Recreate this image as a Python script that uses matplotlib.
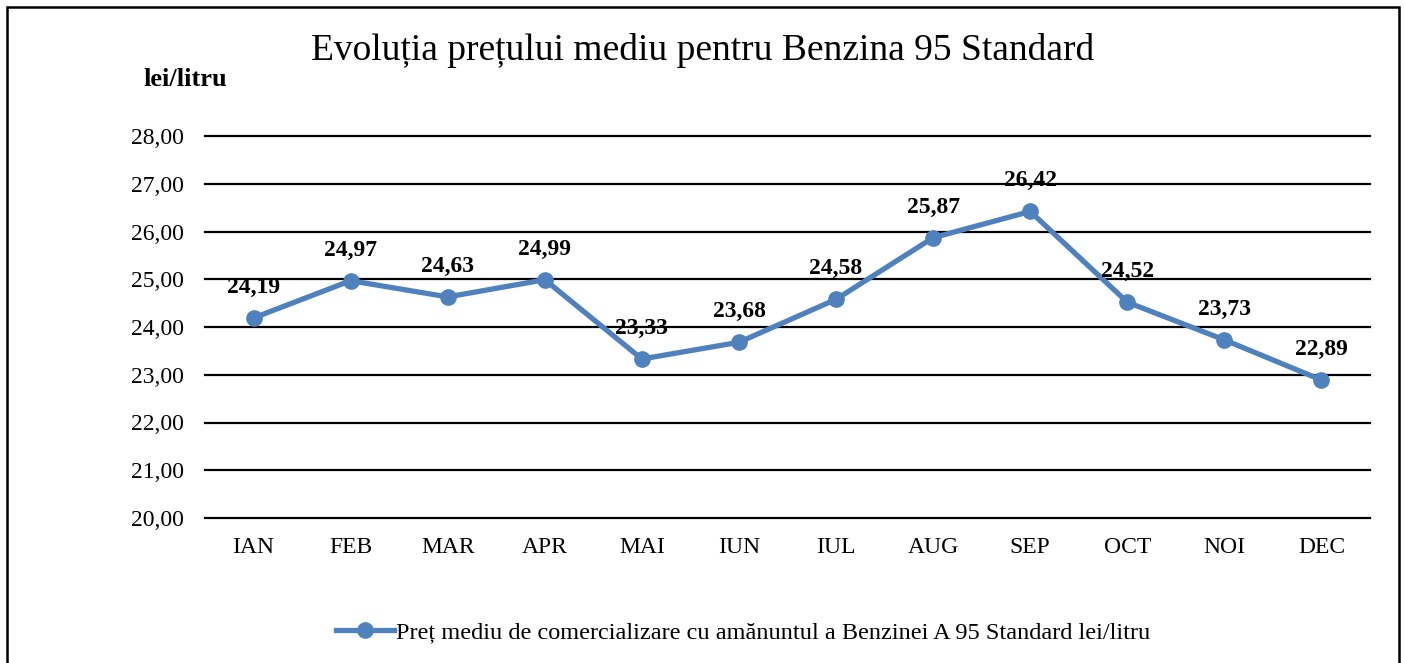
import matplotlib
matplotlib.use("Agg")
from matplotlib import pyplot as plt
from matplotlib.patches import Rectangle

# date
luni = ["IAN", "FEB", "MAR", "APR", "MAI", "IUN", "IUL", "AUG", "SEP", "OCT", "NOI", "DEC"]
pret = [24.19, 24.97, 24.63, 24.99, 23.33, 23.68, 24.58, 25.87, 26.42, 24.52, 23.73, 22.89]
yticks = [20, 21, 22, 23, 24, 25, 26, 27, 28]

titlu = "Evoluția prețului mediu pentru Benzina 95 Standard"
eticheta_serie = "Preț mediu de comercializare cu amănuntul a Benzinei A 95 Standard lei/litru"
albastru = "#4F81BD"

plt.rcParams['font.family'] = ['Liberation Serif', 'DejaVu Serif']

W, H = 1405, 663
fig = plt.figure(figsize=(W / 100, H / 100), dpi=100)
ax = fig.add_axes([205 / W, 1 - 518 / H, (1370 - 205) / W, (518 - 136) / H])

x = list(range(len(luni)))
ax.plot(x, pret, color=albastru, lw=3.8, marker="o", markersize=11, label=eticheta_serie)
for xi, v in zip(x, pret):
    ax.annotate(f"{v:.2f}".replace(".", ","), (xi, v), xytext=(0, 18), textcoords="offset points",
                ha="center", va="baseline", fontsize=17, fontweight="bold")

ax.set_xlim(-0.5, len(luni) - 0.5)
ax.set_ylim(20, 28)
ax.set_yticks(yticks)
ax.set_yticklabels([f"{t:.2f}".replace(".", ",") for t in yticks])
ax.set_xticks(x)
ax.set_xticklabels(luni)
ax.tick_params(length=0, labelsize=17)
ax.tick_params(axis="y", pad=15)
ax.tick_params(axis="x", pad=14)
for s in ax.spines.values():
    s.set_visible(False)
ax.grid(axis="y", color="black", lw=1.6)
for gl in ax.get_ygridlines():
    gl.set_clip_on(False)
ax.set_axisbelow(True)

fig.text(703 / W, 1 - 50 / H, titlu, ha="center", va="center", fontsize=27)
fig.text(185 / W, 1 - 80 / H, "lei/litru", ha="center", va="center", fontsize=19, fontweight="bold")

leg = fig.legend(loc="center", bbox_to_anchor=(743 / W, 1 - 632 / H), frameon=False,
                 fontsize=17.5, handlelength=2.4, handletextpad=0.05)

# chenar
fig.patches.append(Rectangle((7 / W, -0.1), (1399 - 7) / W, 1.1 - 7 / H, transform=fig.transFigure,
                             fill=False, edgecolor="black", lw=1.8, clip_on=False))

fig.savefig("out.png", dpi=100)
